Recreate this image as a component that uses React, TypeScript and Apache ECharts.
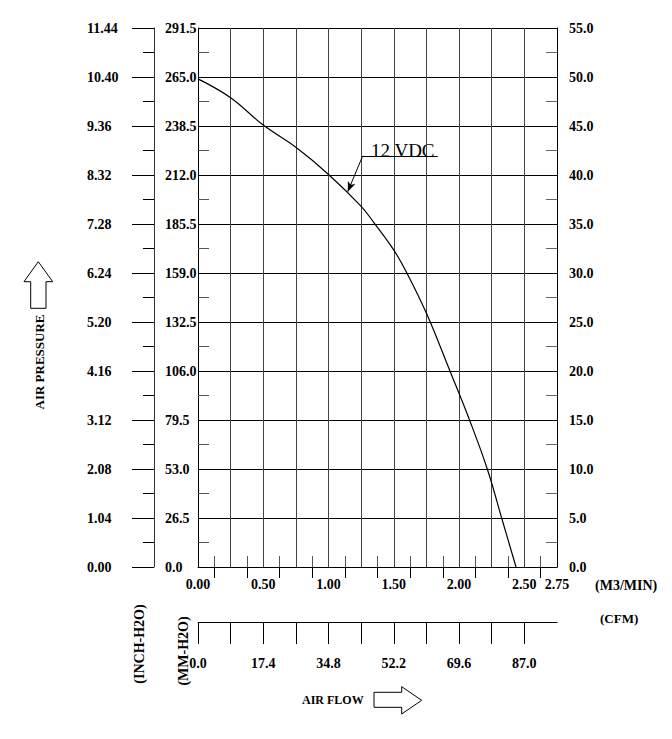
import React, { useEffect, useRef } from 'react';
import * as echarts from 'echarts';

// Fan curve 12 VDC: air flow (m3/min) vs static pressure (mm-H2O)
const flowM3 = [0, 0.25, 0.5, 0.75, 1.0, 1.25, 1.35, 1.5, 1.6, 1.75, 1.93, 2.08, 2.216, 2.326, 2.436];
const pressureMM = [264, 253.8, 239, 227, 212.3, 195, 186, 171.4, 159, 137.2, 106, 79.5, 53, 26.5, 0];

// Axis definitions
const M3_LABELS = [0, 0.5, 1.0, 1.5, 2.0, 2.5, 2.75];
const M3_MAX = 2.75;
const MM_MAX = 291.5;
const MM_STEP = 26.5;
const INCH_MAX = 11.44;
const INCH_STEP = 1.04;
const RIGHT_MAX = 55;
const RIGHT_STEP = 5;
const CFM_MAX = 95.7;
const CFM_LABELS = [0, 17.4, 34.8, 52.2, 69.6, 87.0];
const CFM_MAJOR = [0, 8.7, 17.4, 26.1, 34.8, 43.5, 52.2, 60.9, 69.6, 78.3, 87.0];
const CFM_MINOR = [4.35, 13.05, 21.75, 30.45, 39.15, 47.85, 56.55, 65.25, 73.95, 82.65, 91.35];

// Annotation anchor points (in data units)
const ANN_KNEE = [1.262, 222.4];
const ANN_END = [1.836, 222.4];
const ANN_TIP = [1.147, 203];

export default function App() {
  const ref = useRef<HTMLDivElement>(null);
  useEffect(() => {
    const chart = echarts.init(ref.current!, null, { renderer: 'svg' });
    const font = "'Liberation Serif', 'Times New Roman', serif";
    const lbl = { color: '#000', fontFamily: font, fontWeight: 'bold' as const, fontSize: 14 };
    chart.setOption({
      animation: false,
      backgroundColor: '#fff',
      grid: { left: 198, top: 28, width: 359, height: 539, containLabel: false },
      xAxis: [
        {
          type: 'value', min: 0, max: M3_MAX, interval: 0.25, position: 'bottom',
          axisLine: { show: true, onZero: false, lineStyle: { color: '#000', width: 1 } },
          axisTick: { show: false, inside: true },
          minorTick: { show: true, splitNumber: 2, length: 11, lineStyle: { color: '#555', width: 1 } },
          splitLine: { show: true, lineStyle: { color: '#444', width: 1 } },
          axisLabel: {
            ...lbl, margin: 10,
            formatter: (v: number) => (M3_LABELS.some((t) => Math.abs(t - v) < 1e-6) ? v.toFixed(2) : ''),
          },
        },
        {
          type: 'value', min: 0, max: CFM_MAX, position: 'bottom', offset: 55,
          axisLine: { show: true, onZero: false, lineStyle: { color: '#000', width: 1 } },
          axisTick: { show: true, length: 22, customValues: CFM_MAJOR, lineStyle: { color: '#000', width: 1 } },
          axisLabel: { ...lbl, margin: 34, customValues: CFM_LABELS, formatter: (v: number) => v.toFixed(1) },
          splitLine: { show: false },
        },
        {
          type: 'value', min: 0, max: CFM_MAX, position: 'bottom', offset: 55,
          axisLine: { show: false },
          axisTick: { show: true, length: 11, customValues: CFM_MINOR, lineStyle: { color: '#000', width: 1 } },
          axisLabel: { show: false },
          splitLine: { show: false },
        },
      ],
      yAxis: [
        {
          type: 'value', min: 0, max: MM_MAX, interval: MM_STEP, position: 'left',
          axisLine: { show: true, onZero: false, lineStyle: { color: '#000', width: 1 } },
          axisTick: { show: false, inside: true },
          minorTick: { show: true, splitNumber: 2, length: 11, lineStyle: { color: '#555', width: 1 } },
          splitLine: { show: true, lineStyle: { color: '#000', width: 1 } },
          axisLabel: { ...lbl, align: 'left', margin: 33, formatter: (v: number) => v.toFixed(1) },
        },
        {
          type: 'value', min: 0, max: INCH_MAX, interval: INCH_STEP, position: 'left', offset: 44,
          axisLine: { show: true, onZero: false, lineStyle: { color: '#333', width: 1 } },
          axisTick: { show: true, length: 22, lineStyle: { color: '#000', width: 1 } },
          minorTick: { show: true, splitNumber: 2, length: 11, lineStyle: { color: '#000', width: 1 } },
          splitLine: { show: false },
          axisLabel: { ...lbl, align: 'left', margin: 67, formatter: (v: number) => v.toFixed(2) },
        },
        {
          type: 'value', min: 0, max: RIGHT_MAX, interval: RIGHT_STEP, position: 'right',
          axisLine: { show: true, onZero: false, lineStyle: { color: '#000', width: 1 } },
          axisTick: { show: false, inside: true },
          minorTick: { show: true, splitNumber: 2, length: 11, lineStyle: { color: '#666', width: 1 } },
          splitLine: { show: false },
          axisLabel: { ...lbl, margin: 12, formatter: (v: number) => v.toFixed(1) },
        },
      ],
      series: [
        {
          type: 'line', xAxisIndex: 0, yAxisIndex: 0,
          data: flowM3.map((f, i) => [f, pressureMM[i]]),
          showSymbol: false, smooth: 0.4, silent: true,
          lineStyle: { color: '#000', width: 1.2 },
          markLine: {
            silent: true, animation: false,
            label: { show: false },
            lineStyle: { color: '#000', width: 1, type: 'solid' },
            emphasis: { disabled: true },
            data: [
              [{ coord: ANN_KNEE, symbol: 'none' }, { coord: ANN_END, symbol: 'none' }],
              [{ coord: ANN_KNEE, symbol: 'none' }, { coord: ANN_TIP, symbol: 'arrow', symbolSize: [6, 10] }],
            ],
          },
        },
      ],
      graphic: [
        { type: 'text', x: 371, y: 150, style: { text: '12 VDC', font: `19px ${font}`, fill: '#000', align: 'left', verticalAlign: 'middle' } },
        { type: 'text', x: 39, y: 362, rotation: Math.PI / 2, style: { text: 'AIR PRESSURE', font: `bold 13px ${font}`, fill: '#000', align: 'center', verticalAlign: 'middle' } },
        { type: 'text', x: 139, y: 644, rotation: Math.PI / 2, style: { text: '(INCH-H2O)', font: `bold 14px ${font}`, fill: '#000', align: 'center', verticalAlign: 'middle' } },
        { type: 'text', x: 183, y: 651, rotation: Math.PI / 2, style: { text: '(MM-H2O)', font: `bold 14px ${font}`, fill: '#000', align: 'center', verticalAlign: 'middle' } },
        { type: 'text', x: 595, y: 585, style: { text: '(M3/MIN)', font: `bold 14px ${font}`, fill: '#000', align: 'left', verticalAlign: 'middle' } },
        { type: 'text', x: 600, y: 618, style: { text: '(CFM)', font: `bold 13px ${font}`, fill: '#000', align: 'left', verticalAlign: 'middle' } },
        { type: 'text', x: 302, y: 700, style: { text: 'AIR FLOW', font: `bold 12px ${font}`, fill: '#000', align: 'left', verticalAlign: 'middle' } },
        {
          type: 'polygon',
          shape: { points: [[38.3, 261.7], [52.7, 281.7], [46, 281.7], [46, 308.3], [30.7, 308.3], [30.7, 281.7], [24, 281.7]] },
          style: { fill: '#fff', stroke: '#000', lineWidth: 1 },
        },
        {
          type: 'polygon',
          shape: { points: [[374, 692.3], [401.7, 692.3], [401.7, 686.7], [421.7, 700.3], [401.7, 714], [401.7, 707.3], [374, 707.3]] },
          style: { fill: '#fff', stroke: '#000', lineWidth: 1 },
        },
      ],
    });
    return () => chart.dispose();
  }, []);
  return <div ref={ref} style={{ position: 'absolute', left: 0, top: 0, width: 672, height: 739, background: '#fff' }} />;
}
